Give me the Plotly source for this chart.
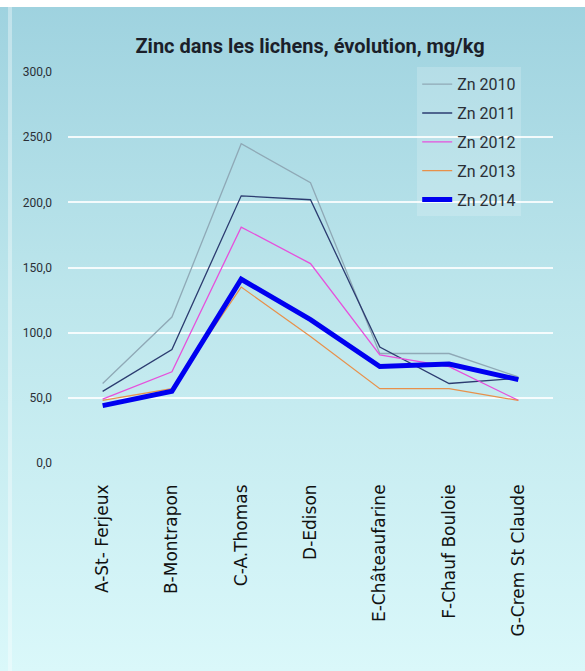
import base64
import plotly.graph_objects as go

categories = ["A-St- Ferjeux", "B-Montrapon", "C-A.Thomas", "D-Edison",
              "E-Châteaufarine", "F-Chauf Bouloie", "G-Crem St Claude"]
zn_2010 = [61, 112, 245, 215, 84, 84, 66]
zn_2011 = [55, 87, 205, 202, 89, 61, 65]
zn_2012 = [49, 70, 181, 153, 83, 74, 48]
zn_2013 = [48, 57, 135, 97, 57, 57, 48]
zn_2014 = [44, 55, 141, 110, 74, 76, 64]
series_names = ["Zn 2010", "Zn 2011", "Zn 2012", "Zn 2013", "Zn 2014"]
y_ticks = [0, 50, 100, 150, 200, 250, 300]

W, H = 585, 671
L, R, T, B = 68, 32, 72, 208

svg = f'''<svg xmlns="http://www.w3.org/2000/svg" width="{W}" height="{H}" viewBox="0 0 {W} {H}" preserveAspectRatio="none">
<defs><linearGradient id="g" x1="0" y1="0" x2="0" y2="1">
<stop offset="0" stop-color="#9ed2df"/>
<stop offset="0.45" stop-color="#bde6ec"/>
<stop offset="1" stop-color="#daf8fa"/>
</linearGradient></defs>
<rect x="0" y="0" width="{W}" height="{H}" fill="url(#g)"/>
<rect x="0" y="0" width="{W}" height="7" fill="#ffffff"/>
<rect x="8" y="7" width="4" height="{H}" fill="#ffffff" fill-opacity="0.35"/>
</svg>'''
src = "data:image/svg+xml;base64," + base64.b64encode(svg.encode()).decode()

pw, ph = W - L - R, H - T - B

styles = [
    dict(color="#8fa9b6", width=1.3),
    dict(color="#2c3c70", width=1.3),
    dict(color="#e650dc", width=1.3),
    dict(color="#e8904a", width=1.2),
    dict(color="#0000f0", width=5),
]

fig = go.Figure()
for i, (name, vals) in enumerate(zip(series_names, [zn_2010, zn_2011, zn_2012, zn_2013, zn_2014])):
    fig.add_trace(go.Scatter(x=categories, y=vals, mode="lines", name=name,
                             line=styles[i], legendgroup=name))

fig.update_layout(
    width=W, height=H,
    margin=dict(l=L, r=R, t=T, b=B),
    paper_bgcolor="rgba(0,0,0,0)",
    plot_bgcolor="rgba(0,0,0,0)",
    separators=", ",
    images=[dict(source=src, xref="paper", yref="paper",
                 x=-L / pw, y=1 + T / ph, sizex=W / pw, sizey=H / ph,
                 xanchor="left", yanchor="top", sizing="stretch", layer="below")],
    title=dict(text="<b>Zinc dans les lichens, évolution, mg/kg</b>",
               x=0.53, xanchor="center", y=0.932, yanchor="middle",
               font=dict(family="Roboto, sans-serif", size=20, color="#1b1f2a")),
    legend=dict(x=0.72, y=1.012, xanchor="left", yanchor="top",
                bgcolor="rgba(255,255,255,0.18)", borderwidth=0,
                font=dict(family="Roboto, sans-serif", size=16, color="#2a2f36"),
                tracegroupgap=5, itemwidth=30),
    showlegend=True,
)
fig.update_xaxes(type="category", range=[-0.5, 6.5], showgrid=False, showline=False,
                 zeroline=False, tickangle=-90, ticks="", ticklabelstandoff=17,
                 tickfont=dict(family="DejaVu Sans, Verdana, sans-serif", size=17, color="#111111"))
fig.update_yaxes(range=[0, 300], tickvals=y_ticks, tickformat=".1f",
                 showgrid=True, gridcolor="rgba(255,255,255,0.85)", gridwidth=1.5,
                 zeroline=False, showline=False, ticks="", ticklabelstandoff=15,
                 automargin=False,
                 tickfont=dict(family="Roboto, sans-serif", size=12, color="#2a2f36"))

fig.write_html("out.html")
